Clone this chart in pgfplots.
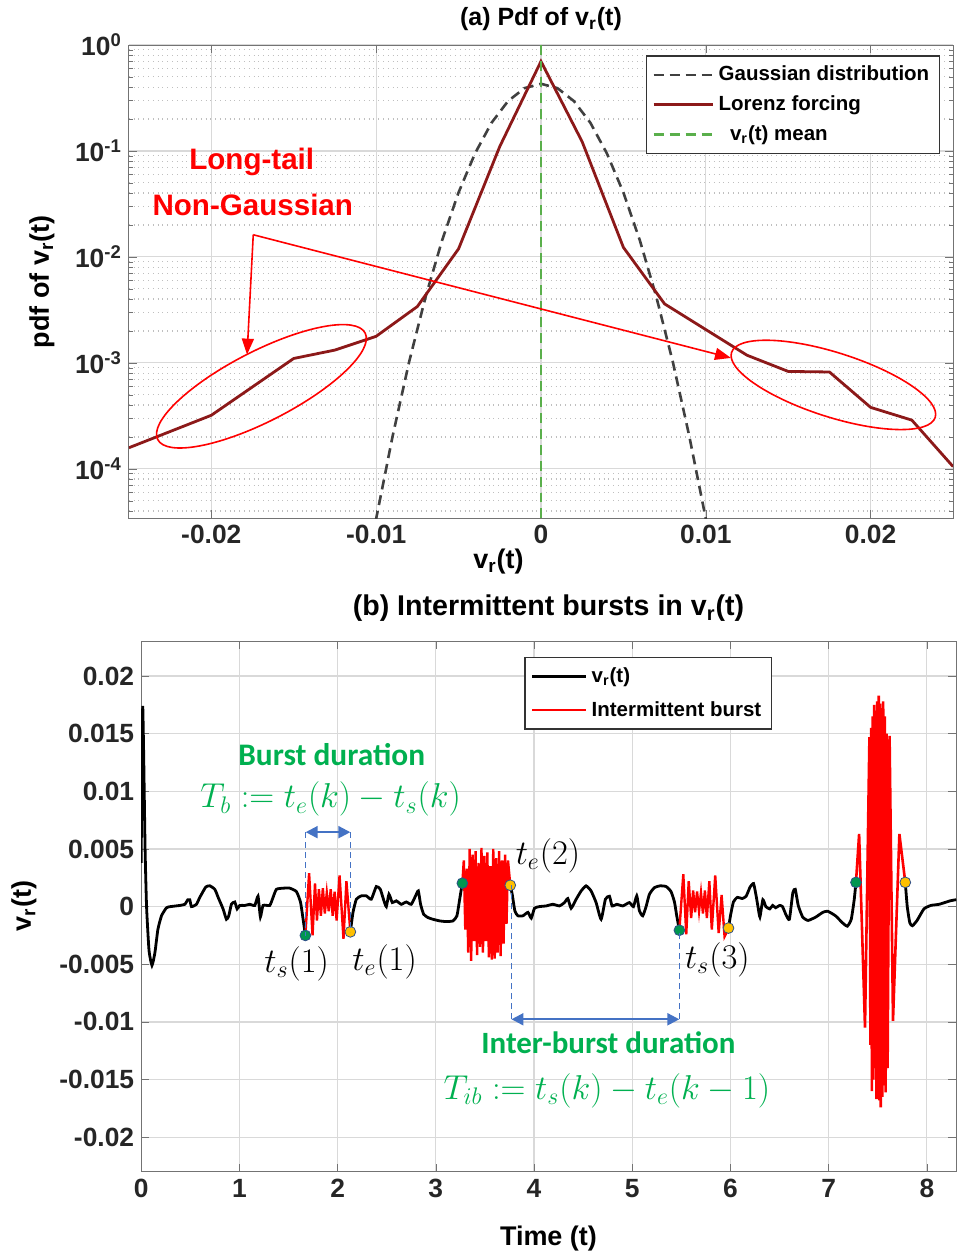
\documentclass[border=0pt]{standalone}
\usepackage{pgfplots}
\pgfplotsset{compat=1.18}
\usepackage{fontspec}
\setmainfont{Liberation Sans}
\newfontfamily\carlito{Carlito}
\usetikzlibrary{arrows.meta}
\newcommand{\fs}[1]{\fontsize{#1}{#1}\selectfont}
\definecolor{lorenz}{RGB}{140,25,25}
\definecolor{meangreen}{RGB}{90,175,75}
\definecolor{burstgreen}{RGB}{0,176,80}
\definecolor{arrowblue}{RGB}{68,114,196}
\definecolor{mkgreen}{RGB}{0,150,80}
\definecolor{mkyellow}{RGB}{255,192,0}

\pgfplotsset{
  matlab/.style={
    scale only axis, anchor=south west,
    axis line style={black!55}, tick style={black!55},
    tick align=inside, major tick length=4pt, minor tick length=2pt,
    ticklabel style={font=\bfseries\fs{13.2}, text=black!85},
    major grid style={black!15, line width=0.6pt},
    minor grid style={black!25, dotted, line width=0.6pt},
    legend style={font=\bfseries\fs{10.25}, draw=black!80, fill=white,
      line width=0.6pt, row sep=2pt, inner sep=3pt},
    legend cell align=left,
    legend image code/.code={\draw[##1] (0cm,0cm) -- (1.05cm,0cm);},
  }
}

\begin{document}
\begin{tikzpicture}
\begin{scope}[x=0.5pt,y=0.5pt]
\path[use as bounding box] (0,0) rectangle (951,1258);
\end{scope}

% ---------- (a) pdf ----------
\begin{axis}[matlab,
  at={(64.5pt,369.5pt)}, width=412.5pt, height=237pt,
  ymode=log, xmin=-0.025, xmax=0.025, ymin=3.4e-5, ymax=1,
  xtick={-0.02,-0.01,0,0.01,0.02}, xticklabels={-0.02,-0.01,0,0.01,0.02},
  scaled x ticks=false,
  ytick={1e-4,1e-3,1e-2,1e-1,1},
  yticklabels={10\textsuperscript{-4},10\textsuperscript{-3},10\textsuperscript{-2},10\textsuperscript{-1},10\textsuperscript{0}},
  minor ytick={4e-5,5e-5,6e-5,7e-5,8e-5,9e-5,2e-4,3e-4,4e-4,5e-4,6e-4,7e-4,8e-4,9e-4,
    2e-3,3e-3,4e-3,5e-3,6e-3,7e-3,8e-3,9e-3,2e-2,3e-2,4e-2,5e-2,6e-2,7e-2,8e-2,9e-2,
    2e-1,3e-1,4e-1,5e-1,6e-1,7e-1,8e-1,9e-1},
  xmajorgrids, ymajorgrids, yminorgrids,
  legend style={at={(0.627,0.978)}, anchor=north west},
]
\addplot[black!75, line width=1.3pt, dash pattern=on 5pt off 3pt] coordinates {
(-0.0102,2.3e-5) (-0.010,3.37e-5) (-0.009,2.03e-4) (-0.008,1.02e-3) (-0.007,4.19e-3)
(-0.006,0.0143) (-0.005,0.0405) (-0.004,0.0947) (-0.003,0.184) (-0.002,0.295)
(-0.001,0.391) (0,0.430) (0.001,0.391) (0.002,0.295) (0.003,0.184) (0.004,0.0947)
(0.005,0.0405) (0.006,0.0143) (0.007,4.19e-3) (0.008,1.02e-3) (0.009,2.03e-4)
(0.010,3.37e-5) (0.0102,2.3e-5)};
\addlegendentry{Gaussian distribution}
\addplot[lorenz, line width=1.4pt] coordinates {
(-0.025,1.58e-4) (-0.02,3.2e-4) (-0.015,1.1e-3) (-0.0125,1.32e-3) (-0.01,1.78e-3)
(-0.0075,3.4e-3) (-0.005,0.0119) (-0.0025,0.11) (0,0.70) (0.0025,0.122) (0.005,0.0123)
(0.0075,3.6e-3) (0.0125,1.18e-3) (0.015,8.3e-4) (0.0175,8.2e-4) (0.02,3.8e-4)
(0.0225,2.88e-4) (0.025,1.05e-4)};
\addlegendentry{Lorenz forcing}
\addplot[meangreen, line width=1.1pt, dash pattern=on 5pt off 3pt] coordinates {(0,3.4e-5) (0,1)};
\addlegendentry{\ \ v\textsubscript{r}(t) mean}
\end{axis}

% ---------- (b) time series ----------
\begin{axis}[matlab,
  at={(70.65pt,42.5pt)}, width=408pt, height=265.5pt,
  xmin=0, xmax=8.3, ymin=-0.023, ymax=0.023,
  xtick={0,1,2,3,4,5,6,7,8}, xticklabels={0,1,2,3,4,5,6,7,8},
  ytick={-0.02,-0.015,-0.01,-0.005,0,0.005,0.01,0.015,0.02},
  yticklabels={-0.02,-0.015,-0.01,-0.005,0,0.005,0.01,0.015,0.02},
  scaled y ticks=false,
  xmajorgrids, ymajorgrids,
  legend style={at={(0.47,0.971)}, anchor=north west, row sep=4pt},
  legend image code/.code={\draw[#1] (0cm,0cm) -- (0.95cm,0cm);},
]
% black signal, segment A
\addplot[black, line width=1.4pt, smooth, tension=0.3] coordinates {
(0.000,0.0038) (0.008,0.0125) (0.016,0.0174) (0.026,0.0130) (0.040,0.0050) (0.055,0.0000)
(0.080,-0.0038) (0.110,-0.0051) (0.140,-0.0040) (0.170,-0.0020) (0.207,-0.0008)
(0.258,-0.0001) (0.300,0.0000) (0.394,0.0001) (0.445,0.0002) (0.475,0.0006) (0.495,0.0006)
(0.512,0.0000) (0.563,0.0002) (0.597,0.0008) (0.658,0.0017) (0.699,0.0018) (0.750,0.0015)
(0.784,0.0008) (0.834,-0.0002) (0.868,-0.0011) (0.892,-0.0008) (0.919,0.0002) (0.953,0.0004)
(0.977,-0.0002) (1.004,0.0001) (1.055,0.0001) (1.106,0.0002) (1.157,0.0001) (1.190,0.0009)
(1.214,-0.0009) (1.241,0.0001) (1.309,0.0001) (1.343,0.0008) (1.377,0.0015) (1.450,0.0016)
(1.513,0.0016) (1.581,0.0013) (1.622,0.0004) (1.649,-0.0011) (1.672,-0.0025)};
\addlegendentry{v\textsubscript{r}(t)}
% burst 1
\addplot[red, line width=1.2pt] coordinates {
(1.672,-0.0025) (1.71,0.0029) (1.745,-0.0025) (1.77,0.0020) (1.79,-0.0012) (1.81,0.0015)
(1.83,-0.0008) (1.85,0.0016) (1.87,-0.0006) (1.89,0.0012) (1.91,-0.0004) (1.93,0.0015)
(1.95,-0.0008) (1.97,0.0013) (1.99,-0.0012) (2.02,0.0027) (2.06,-0.0028) (2.09,0.0022)
(2.13,-0.0022)};
\addlegendentry{Intermittent burst}
% segment B
\addplot[black, line width=1.4pt, smooth, tension=0.3, forget plot] coordinates {
(2.130,-0.00219) (2.157,-0.0005) (2.191,0.00064) (2.242,0.00093) (2.293,0.00093)
(2.343,0.00064) (2.394,0.00174) (2.435,0.0015) (2.469,0.00058) (2.496,0.0000)
(2.523,0.00107) (2.557,0.00035) (2.598,0.0005) (2.648,0.0002) (2.699,0.0004)
(2.750,0.0002) (2.794,0.00093) (2.822,0.00136) (2.845,0.0002) (2.876,-0.00066)
(2.920,-0.00095) (2.971,-0.0011) (3.039,-0.00124) (3.107,-0.0013) (3.175,-0.00124)
(3.215,-0.0008) (3.243,0.00064) (3.270,0.00203)};
% burst 2
\addplot[red, line width=1.2pt, forget plot] coordinates {
(3.270,0.0020) (3.285,0.0040) (3.30,-0.0020) (3.315,0.0033) (3.33,-0.0040) (3.345,0.0050)
(3.36,-0.0047) (3.375,0.0045) (3.39,-0.0030) (3.405,0.0048) (3.42,-0.0042) (3.435,0.0038)
(3.45,-0.0035) (3.465,0.0051) (3.48,-0.0040) (3.495,0.0044) (3.51,-0.0030) (3.525,0.0047)
(3.54,-0.0044) (3.555,0.0035) (3.57,-0.0046) (3.585,0.0050) (3.60,-0.0045) (3.615,0.0042)
(3.63,-0.0040) (3.645,0.0048) (3.66,-0.0043) (3.675,0.0040) (3.69,-0.0032) (3.705,0.0045)
(3.72,-0.0015) (3.735,0.0040) (3.758,0.0019)};
% segment C
\addplot[black, line width=1.4pt, smooth, tension=0.3, forget plot] coordinates {
(3.758,0.00185) (3.778,0.00107) (3.805,-0.00037) (3.836,-0.0008) (3.887,-0.0008)
(3.938,-0.0005) (3.972,-0.0010) (4.005,-0.00014) (4.056,0.0000) (4.124,0.00006)
(4.192,0.0002) (4.259,0.00006) (4.310,0.00035) (4.344,0.0007) (4.378,-0.00014)
(4.429,0.00064) (4.480,0.00136) (4.530,0.0018) (4.581,0.00136) (4.632,0.00035)
(4.683,-0.0011) (4.727,0.00064) (4.768,0.0009) (4.795,0.00006) (4.843,0.0002)
(4.904,0.00006) (4.971,0.00035) (5.012,0.0000) (5.046,0.00093) (5.073,-0.00037)
(5.107,-0.0008) (5.141,0.0000) (5.175,0.00107) (5.226,0.00165) (5.284,0.0018)
(5.345,0.00174) (5.395,0.0013) (5.430,0.0004) (5.453,-0.0008) (5.480,-0.00205)};
% burst 3
\addplot[red, line width=1.2pt, forget plot] coordinates {
(5.48,-0.0020) (5.52,0.0028) (5.55,-0.0024) (5.575,0.0022) (5.60,-0.0010) (5.62,0.0014)
(5.64,-0.0005) (5.66,0.0013) (5.68,-0.0004) (5.70,0.0012) (5.72,-0.0006) (5.74,0.0014)
(5.76,-0.0010) (5.785,0.0022) (5.81,-0.0020) (5.845,0.0027) (5.88,-0.0023) (5.91,0.0010)
(5.94,-0.0026) (5.98,-0.0019)};
% segment D
\addplot[black, line width=1.4pt, smooth, tension=0.3, forget plot] coordinates {
(5.980,-0.00186) (6.00,-0.0008) (6.03,0.0004) (6.07,0.0008) (6.12,0.0007) (6.16,0.0009)
(6.20,0.0017) (6.235,0.0020) (6.26,0.0010) (6.28,0.0000) (6.30,-0.0009) (6.33,0.0006)
(6.36,0.0000) (6.40,-0.0002) (6.43,0.0001) (6.46,-0.0001) (6.50,0.0001) (6.53,0.0000)
(6.565,-0.0007) (6.60,-0.0011) (6.635,0.0012) (6.66,0.0015) (6.69,0.0001) (6.735,-0.0009)
(6.79,-0.0012) (6.87,-0.0009) (6.94,-0.0005) (6.99,-0.0004) (7.07,-0.0008) (7.14,-0.0014)
(7.19,-0.0017) (7.23,-0.0011) (7.26,0.0006) (7.278,0.0021)};
% burst 4
\addplot[red, line width=1.3pt, forget plot] coordinates {
(7.278,0.0021) (7.31,0.0063) (7.37,-0.0105) (7.415,0.0147) (7.425,-0.0120) (7.432,0.0155)
(7.44,-0.0160) (7.447,0.0165) (7.455,-0.0150) (7.463,0.0175) (7.471,-0.0140) (7.479,0.0170)
(7.487,-0.0167) (7.495,0.0178) (7.503,-0.0160) (7.51,0.0183) (7.517,-0.0168) (7.524,0.0176)
(7.53,-0.0174) (7.538,0.0172) (7.546,-0.0165) (7.555,0.0178) (7.563,-0.0155) (7.571,0.0165)
(7.58,-0.0161) (7.59,0.0150) (7.60,-0.0140) (7.62,0.0148) (7.655,-0.0099) (7.72,0.0063)
(7.78,0.0021)};
% segment E
\addplot[black, line width=1.4pt, smooth, tension=0.3, forget plot] coordinates {
(7.780,0.0021) (7.800,0.0000) (7.826,-0.0014) (7.853,-0.00166) (7.900,-0.0012)
(7.970,-0.0002) (8.040,0.0001) (8.125,0.0002) (8.237,0.0005) (8.300,0.0006)};
% start and end points
\addplot[only marks, mark=*, mark size=2.7pt, mark options={fill=mkgreen, draw=arrowblue!70!black, line width=0.4pt}, forget plot]
  coordinates {(1.672,-0.0025) (3.270,0.00203) (5.480,-0.00205) (7.278,0.0021)};
\addplot[only marks, mark=*, mark size=2.7pt, mark options={fill=mkyellow, draw=arrowblue!70!black, line width=0.4pt}, forget plot]
  coordinates {(2.130,-0.00219) (3.758,0.00185) (5.980,-0.00186) (7.780,0.0021)};
\end{axis}

\begin{scope}[x=0.5pt,y=0.5pt]
% titles and labels
\node[font=\bfseries\fs{12.5}] at (541.5,1239) {(a) Pdf of v\textsubscript{r}(t)};
\node[font=\bfseries\fs{14.3}] at (549,649) {(b) Intermittent bursts in v\textsubscript{r}(t)};
\node[font=\bfseries\fs{13.5}] at (499,696) {v\textsubscript{r}(t)};
\node[font=\bfseries\fs{13.5}, rotate=90] at (42,976) {pdf of v\textsubscript{r}(t)};
\node[font=\bfseries\fs{13.5}, rotate=90] at (24,351) {v\textsubscript{r}(t)};
\node[font=\bfseries\fs{13.5}] at (549,18) {Time (t)};
% panel (a) annotations
\node[text=red, font=\bfseries\fs{14.8}, inner sep=0pt] at (252,1096) {Long-tail};
\node[text=red, font=\bfseries\fs{14.8}, inner sep=0pt] at (253,1053) {Non-Gaussian};
\draw[red, line width=0.8pt, -{Triangle[length=8pt,width=6pt]}] (253.5,1023) -- (247.3,903);
\draw[red, line width=0.8pt, -{Triangle[length=8pt,width=6pt]}] (253.5,1023) -- (731.7,899.7);
\draw[red, line width=0.8pt, shift={(261.7,871.3)}, rotate=27.2] (0,0) ellipse [x radius=116.7, y radius=35];
\draw[red, line width=0.8pt, shift={(834.2,872.7)}, rotate=-17.7] (0,0) ellipse [x radius=107, y radius=32.2];
% panel (b) annotations
\node[text=burstgreen, font=\carlito\bfseries\fs{15.7}, inner sep=0pt] at (332,503) {Burst duration};
\node[text=burstgreen, font=\fs{17}, inner sep=0pt] at (331,458) {$T_b := t_e(k) - t_s(k)$};
\draw[arrowblue, line width=0.6pt, dash pattern=on 3pt off 2pt] (306,425) -- (306,321);
\draw[arrowblue, line width=0.6pt, dash pattern=on 3pt off 2pt] (350.7,425) -- (350.7,325);
\draw[arrowblue, line width=1.1pt, {Triangle[length=6pt,width=6pt]}-{Triangle[length=6pt,width=6pt]}] (306,425) -- (350.7,425);
\draw[arrowblue, line width=0.6pt, dash pattern=on 3pt off 2pt] (512,237.7) -- (512,372);
\draw[arrowblue, line width=0.6pt, dash pattern=on 3pt off 2pt] (680,237.7) -- (680,327);
\draw[arrowblue, line width=1.1pt, {Triangle[length=6pt,width=6pt]}-{Triangle[length=6pt,width=6pt]}] (512,237.7) -- (680,237.7);
\node[text=burstgreen, font=\carlito\bfseries\fs{15.5}, inner sep=0pt] at (609,214) {Inter-burst duration};
\node[text=burstgreen, font=\fs{17}, inner sep=0pt] at (607.5,166) {$T_{ib} := t_s(k) - t_e(k-1)$};
\node[font=\fs{17}, inner sep=0pt] at (297,293) {$t_s(1)$};
\node[font=\fs{17}, inner sep=0pt] at (385,295) {$t_e(1)$};
\node[font=\fs{17}, inner sep=0pt] at (548.5,401) {$t_e(2)$};
\node[font=\fs{17}, inner sep=0pt] at (718,297) {$t_s(3)$};
\end{scope}
\end{tikzpicture}
\end{document}
